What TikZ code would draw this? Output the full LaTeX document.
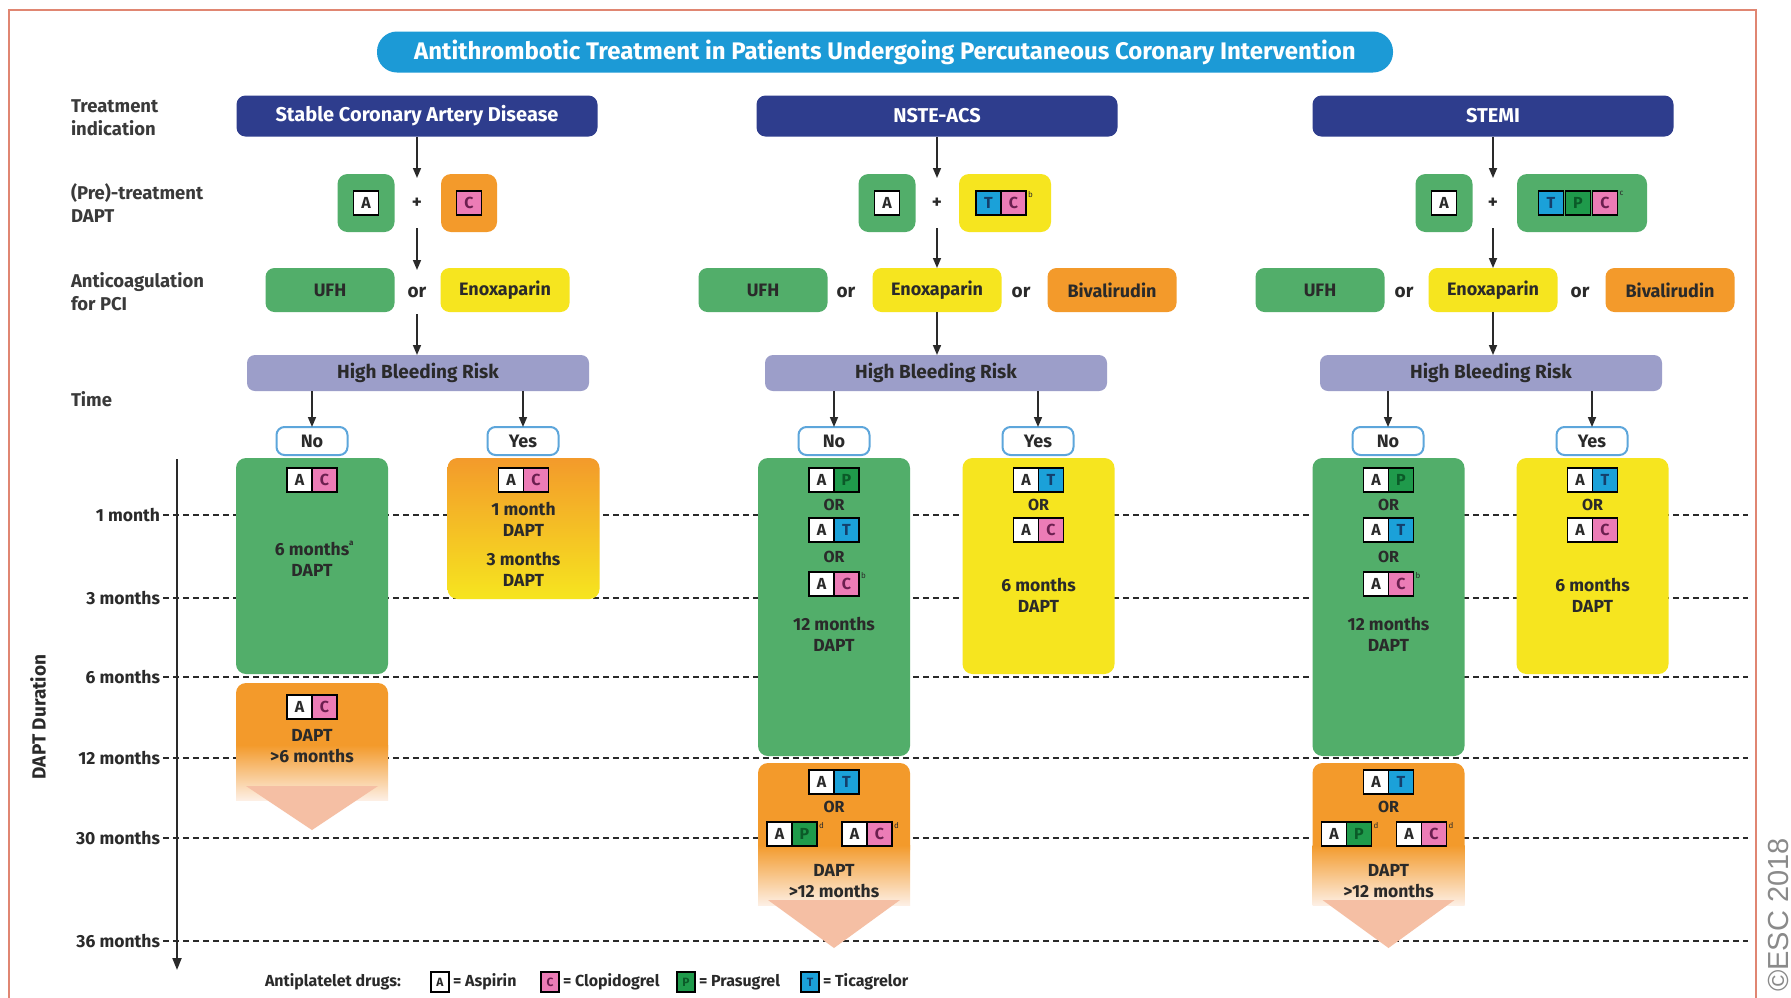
\documentclass[tikz,border=0pt]{standalone}
\usepackage{fontspec}
\setmainfont{Fira Sans}
\newfontfamily\copyfont{Liberation Sans}
\usetikzlibrary{arrows.meta,calc}

\definecolor{ttl}{HTML}{1C9AD6}
\definecolor{navy}{HTML}{2E3D8D}
\definecolor{grn}{HTML}{52AE6A}
\definecolor{org}{HTML}{F39A2B}
\definecolor{yel}{HTML}{F6E51F}
\definecolor{lav}{HTML}{9C9EC9}
\definecolor{pnk}{HTML}{EC7CB6}
\definecolor{tcy}{HTML}{1BA1D9}
\definecolor{pgr}{HTML}{1F9A4B}
\definecolor{tink}{HTML}{143F6B}
\definecolor{cink}{HTML}{6B1F4F}
\definecolor{pltr}{HTML}{0B5A28}
\definecolor{frame}{HTML}{E08672}
\definecolor{salmon}{HTML}{F5BFA4}
\definecolor{fadeend}{HTML}{FDEFE4}
\definecolor{ink}{HTML}{2A2A2A}
\definecolor{labgray}{HTML}{3A3A3A}
\definecolor{nobd}{HTML}{5DA6DB}
\definecolor{cgray}{HTML}{8A8A8A}

\tikzset{
  base/.style={inner sep=0pt, outer sep=0pt},
  ttlbox/.style={base, fill=ttl, rounded corners=20pt, minimum width=1016pt, minimum height=41pt,
    text=white, font=\fontsize{24}{26}\selectfont\bfseries},
  hdr/.style={base, fill=navy, rounded corners=9pt, minimum width=361pt, minimum height=41pt,
    text=white, font=\fontsize{20}{22}\selectfont\bfseries},
  rowlab/.style={base, anchor=west, align=left, text=labgray, font=\fontsize{18.5}{23}\selectfont\bfseries},
  pre/.style={base, rounded corners=10pt, minimum height=58pt},
  opt/.style={base, rounded corners=9pt, minimum height=44pt, minimum width=129pt, text=ink,
    font=\fontsize{18}{20}\selectfont\bfseries},
  conj/.style={base, text=ink, font=\fontsize{19}{20}\selectfont\bfseries, minimum height=44pt},
  hbr/.style={base, fill=lav, rounded corners=8pt, minimum width=342pt, minimum height=36pt, text=ink,
    font=\fontsize{19}{20}\selectfont\bfseries},
  yn/.style={base, draw=nobd, line width=2pt, fill=white, rounded corners=8pt, minimum width=71pt,
    minimum height=28pt, text=ink, font=\fontsize{18}{20}\selectfont\bfseries},
  tbox/.style={base, rounded corners=10pt, minimum width=152pt},
  dsq/.style={base, draw=black, line width=1.6pt, minimum width=25pt, minimum height=24pt,
    font=\fontsize{16}{18}\selectfont\bfseries, text=ink},
  lsq/.style={dsq, minimum width=18pt, minimum height=20pt, font=\fontsize{12}{14}\selectfont\bfseries},
  intext/.style={base, text=ink, align=center, font=\fontsize{17.5}{21}\selectfont\bfseries},
  ortext/.style={base, text=ink, font=\fontsize{16}{17}\selectfont\bfseries},
  suptxt/.style={base, anchor=north west, font=\fontsize{8}{9}\selectfont, text=ink},
  month/.style={base, anchor=east, text=ink, font=\fontsize{17.5}{19}\selectfont\bfseries},
  grid/.style={ink, line width=1.5pt, dash pattern=on 6pt off 4pt},
  arr/.style={ink, line width=1.6pt, -{Triangle[length=10pt,width=8pt]}},
  leg/.style={base, anchor=west, text=ink, font=\fontsize{16}{18}\selectfont\bfseries},
}

% two-drug pair: name, x, y, second letter, its fill, its letter colour
\newcommand\dpair[6]{%
  \node[dsq, fill=white, anchor=east] (#1a) at (#2,#3) {A};
  \node[dsq, fill=#5, text=#6, anchor=west] (#1b) at (#2,#3) {#4};}
% footnote mark after a pair
\newcommand\dmark[2]{\node[suptxt] (#1m) at ([xshift=2pt]#1b.north east) {#2};}
% orange extension block with fading tail and arrow: centre x, top, fade start, fade end, shoulder, tip
\newcommand\extshape[6]{%
  \fill[org, rounded corners=10pt] ({#1-76},#2) rectangle ({#1+76},{#3+15});
  \shade[top color=org, bottom color=fadeend] ({#1-76},#3) rectangle ({#1+76},#4);
  \fill[salmon] ({#1-66},#5) -- ({#1+66},#5) -- (#1,#6) -- cycle;}

\begin{document}
\begin{tikzpicture}[x=1pt,y=-1pt]
\useasboundingbox (0,0) rectangle (1791,997);
\fill[white] (0,0) rectangle (1791,997);
\draw[frame, line width=2.5pt] (9,1000) -- (9,10) -- (1756,10) -- (1756,1000);
\node[rotate=90, text=cgray, font=\copyfont\fontsize{29}{32}\selectfont] (copy) at (1778,915) {©ESC 2018};

% title and row labels
\node[ttlbox] (title) at (885,52) {Antithrombotic Treatment in Patients Undergoing Percutaneous Coronary Intervention};
\node[rowlab] (lab1) at (71,118) {Treatment\\indication};
\node[rowlab] (lab2) at (71,203) {(Pre)-treatment\\DAPT};
\node[rowlab] (lab3) at (71,292) {Anticoagulation\\for PCI};
\node[rowlab] (lab4) at (71,399) {Time};

% duration axis and month grid
\coordinate (gridend) at (1748,0);
\foreach \nm/\yy/\lab in {m1/515/1 month, m3/598/3 months, m6/677/6 months,
                          m12/758/12 months, m30/838/30 months, m36/941/36 months}{
  \node[month] (\nm) at (160,\yy) {\lab};
  \draw[grid] ([xshift=3pt]\nm.east) -- (\nm.east -| gridend);
}
\coordinate (axtop) at (177,459);
\coordinate (axbot) at (177,970);
\draw[ink, line width=2pt, -{Triangle[length=12pt,width=9pt]}] (axtop) -- (axbot);
\node[rotate=90, text=ink, font=\fontsize{19}{21}\selectfont\bfseries] (axlab) at (38,717) {DAPT Duration};

% indications
\node[hdr] (hdr1) at (417,116) {Stable Coronary Artery Disease};
\node[hdr] (hdr2) at (937,116) {NSTE-ACS};
\node[hdr] (hdr3) at (1493,116) {STEMI};

% (pre)-treatment
\node[pre, fill=grn, minimum width=57pt] (pa1) at (366,203) {};
\node[dsq, fill=white] (pa1s) at (pa1) {A};
\node[conj, minimum height=50pt] (plus1) at (417,203) {+};
\node[pre, fill=org, minimum width=56pt] (pc1) at (469,203) {};
\node[dsq, fill=pnk, text=cink] (pc1s) at (pc1) {C};

\node[pre, fill=grn, minimum width=57pt] (pa2) at (887,203) {};
\node[dsq, fill=white] (pa2s) at (pa2) {A};
\node[conj, minimum height=50pt] (plus2) at (937,203) {+};
\node[pre, fill=yel, minimum width=92pt] (ptc2) at (1005,203) {};
\node[dsq, fill=tcy, text=tink, anchor=east] (pt2s) at (1001,203) {T};
\node[dsq, fill=pnk, text=cink, anchor=west] (pc2s) at (1001,203) {C};
\node[suptxt] (pc2m) at ([xshift=2pt]pc2s.north east) {b};

\node[pre, fill=grn, minimum width=57pt] (pa3) at (1444,203) {};
\node[dsq, fill=white] (pa3s) at (pa3) {A};
\node[conj, minimum height=50pt] (plus3) at (1493,203) {+};
\node[pre, fill=grn, minimum width=130pt] (ptpc3) at (1582,203) {};
\node[dsq, fill=tcy, text=tink] (pt3s) at (1551,203) {T};
\node[dsq, fill=pgr, text=pltr] (pp3s) at (1578,203) {P};
\node[dsq, fill=pnk, text=cink] (pc3s) at (1605,203) {C};
\node[suptxt] (pc3m) at ([xshift=2pt]pc3s.north east) {c};

% anticoagulation
\node[opt, fill=grn] (ufh1) at (330,290) {UFH};
\node[conj] (or1) at (417,292) {or};
\node[opt, fill=yel] (enx1) at (505,290) {Enoxaparin};

\node[opt, fill=grn] (ufh2) at (763,290) {UFH};
\node[conj] (or2a) at (846,292) {or};
\node[opt, fill=yel] (enx2) at (937,290) {Enoxaparin};
\node[conj] (or2b) at (1021,292) {or};
\node[opt, fill=org] (biv2) at (1112,290) {Bivalirudin};

\node[opt, fill=grn] (ufh3) at (1320,290) {UFH};
\node[conj] (or3a) at (1404,292) {or};
\node[opt, fill=yel] (enx3) at (1493,290) {Enoxaparin};
\node[conj] (or3b) at (1580,292) {or};
\node[opt, fill=org] (biv3) at (1670,290) {Bivalirudin};

% bleeding risk
\node[hbr] (hbr1) at (418,373) {High Bleeding Risk};
\node[hbr] (hbr2) at (936,373) {High Bleeding Risk};
\node[hbr] (hbr3) at (1491,373) {High Bleeding Risk};

\node[yn] (no1) at (312,441) {No};
\node[yn] (yes1) at (523,441) {Yes};
\node[yn] (no2) at (834,441) {No};
\node[yn] (yes2) at (1038,441) {Yes};
\node[yn] (no3) at (1388,441) {No};
\node[yn] (yes3) at (1592,441) {Yes};

% flow arrows
\draw[arr] (hdr1) -- (plus1);
\draw[arr] (plus1) -- (or1);
\draw[arr] (or1) -- (or1 |- hbr1.north);
\draw[arr] (hdr2) -- (plus2);
\draw[arr] (plus2) -- (enx2);
\draw[arr] (enx2) -- (enx2 |- hbr2.north);
\draw[arr] (hdr3) -- (plus3);
\draw[arr] (plus3) -- (enx3);
\draw[arr] (enx3) -- (enx3 |- hbr3.north);
\foreach \h/\n in {hbr1/no1, hbr1/yes1, hbr2/no2, hbr2/yes2, hbr3/no3, hbr3/yes3}
  \draw[arr] (\h.south -| \n.north) -- (\n.north);

% DAPT duration blocks
\node[tbox, fill=grn, minimum height=216pt] (n1) at (312,566) {};
\node[tbox, top color=org, bottom color=yel, minimum height=141pt] (y1) at (523.5,528.5) {};
\node[tbox, fill=grn, minimum height=298pt] (n2) at (834,607) {};
\node[tbox, fill=yel, minimum height=216pt] (y2) at (1038.5,566) {};
\node[tbox, fill=grn, minimum height=298pt] (n3) at (1388.5,607) {};
\node[tbox, fill=yel, minimum height=216pt] (y3) at (1592.5,566) {};

\extshape{312}{683}{745}{800}{786}{830}
\extshape{834}{763}{845}{905}{900}{948}
\extshape{1388.5}{763}{845}{905}{900}{948}

% stable CAD
\dpair{n1p}{312}{480}{C}{pnk}{cink}
\node[intext] (n1t) at (312,559) {6 months\rlap{\raisebox{1.1ex}{\fontsize{8}{9}\selectfont a}}\\DAPT};
\dpair{y1p}{523.5}{480}{C}{pnk}{cink}
\node[intext] (y1t) at (523.5,544) {1 month\\DAPT\\[8pt]3 months\\DAPT};
\dpair{e1p}{312}{707}{C}{pnk}{cink}
\node[intext] (e1t) at (312,746) {DAPT\\>6 months};

% NSTE-ACS
\dpair{n2p1}{834}{480}{P}{pgr}{pltr}
\node[ortext] (n2o1) at (834,505) {OR};
\dpair{n2p2}{834}{530}{T}{tcy}{tink}
\node[ortext] (n2o2) at (834,557) {OR};
\dpair{n2p3}{834}{584}{C}{pnk}{cink}
\dmark{n2p3}{b}
\node[intext] (n2t) at (834,634) {12 months\\DAPT};
\dpair{y2p1}{1038.5}{480}{T}{tcy}{tink}
\node[ortext] (y2o1) at (1038.5,505) {OR};
\dpair{y2p2}{1038.5}{530}{C}{pnk}{cink}
\node[intext] (y2t) at (1038.5,595) {6 months\\DAPT};
\dpair{e2p1}{834}{782}{T}{tcy}{tink}
\node[ortext] (e2o1) at (834,807) {OR};
\dpair{e2p2}{792}{834}{P}{pgr}{pltr}
\dmark{e2p2}{d}
\dpair{e2p3}{867}{834}{C}{pnk}{cink}
\dmark{e2p3}{d}
\node[intext] (e2t) at (834,881) {DAPT\\>12 months};

% STEMI
\dpair{n3p1}{1388.5}{480}{P}{pgr}{pltr}
\node[ortext] (n3o1) at (1388.5,505) {OR};
\dpair{n3p2}{1388.5}{530}{T}{tcy}{tink}
\node[ortext] (n3o2) at (1388.5,557) {OR};
\dpair{n3p3}{1388.5}{584}{C}{pnk}{cink}
\dmark{n3p3}{b}
\node[intext] (n3t) at (1388.5,634) {12 months\\DAPT};
\dpair{y3p1}{1592.5}{480}{T}{tcy}{tink}
\node[ortext] (y3o1) at (1592.5,505) {OR};
\dpair{y3p2}{1592.5}{530}{C}{pnk}{cink}
\node[intext] (y3t) at (1592.5,595) {6 months\\DAPT};
\dpair{e3p1}{1388.5}{782}{T}{tcy}{tink}
\node[ortext] (e3o1) at (1388.5,807) {OR};
\dpair{e3p2}{1346.5}{834}{P}{pgr}{pltr}
\dmark{e3p2}{d}
\dpair{e3p3}{1421.5}{834}{C}{pnk}{cink}
\dmark{e3p3}{d}
\node[intext] (e3t) at (1388.5,881) {DAPT\\>12 months};

% legend
\node[leg] (legt) at (265,982) {Antiplatelet drugs:};
\node[lsq, fill=white] (lA) at (440,982) {A};
\node[leg] (lAt) at (453,982) {= Aspirin};
\node[lsq, fill=pnk, text=cink] (lC) at (550,982) {C};
\node[leg] (lCt) at (563,982) {= Clopidogrel};
\node[lsq, fill=pgr, text=pltr] (lP) at (686,982) {P};
\node[leg] (lPt) at (699,982) {= Prasugrel};
\node[lsq, fill=tcy, text=tink] (lT) at (810,982) {T};
\node[leg] (lTt) at (823,982) {= Ticagrelor};
\end{tikzpicture}
\end{document}
